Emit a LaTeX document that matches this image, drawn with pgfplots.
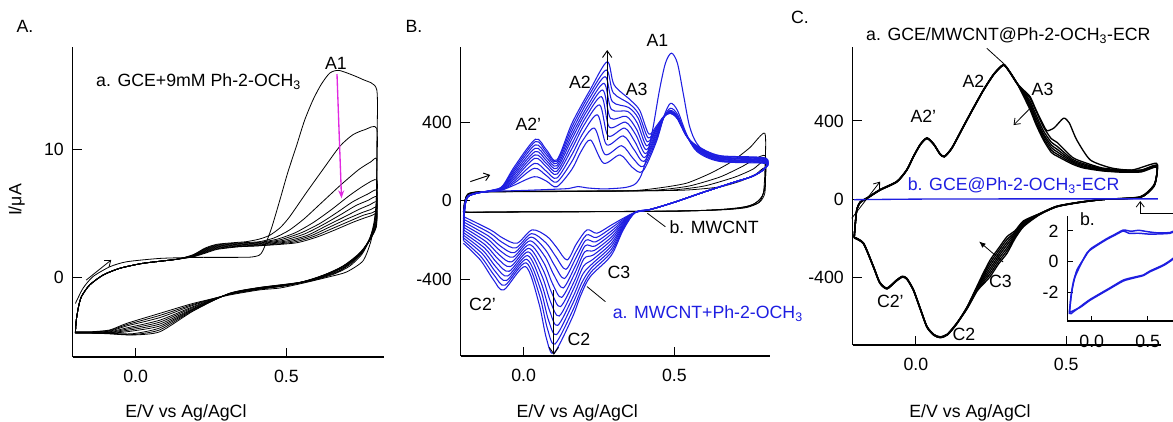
\documentclass[border=0pt]{standalone}
\usepackage{pgfplots}
\pgfplotsset{compat=1.18}
\usepackage{fontspec}
\setmainfont{Liberation Sans}
\usetikzlibrary{arrows.meta}
\definecolor{cvblue}{RGB}{30,30,225}
\definecolor{cvmag}{RGB}{225,40,225}
\pgfplotsset{
  cv/.style={
    scale only axis,
    axis lines*=left,
    axis line style={line width=0.8pt},
    tick style={black, line width=0.8pt},
    tick align=inside,
    major tick length=7pt,
    xtick={0,0.5}, xticklabels={0.0,0.5},
    xticklabel style={yshift=-5pt},
    yticklabel style={xshift=-2pt},
    /pgf/number format/assume math mode=true,
    clip=false,
  },
  ca/.style={black, line width=0.6pt, smooth, tension=0.4},
  cb/.style={cvblue, line width=0.8pt, smooth, tension=0.5},
  cc/.style={black, line width=1pt, smooth, tension=0.4},
}
\begin{document}
\fontsize{13.3}{16}\selectfont
\begin{tikzpicture}
\useasboundingbox (0,0) rectangle (879.75pt,315.75pt);
\clip (0,0) rectangle (879.75pt,315.75pt);

% ---------------- Panel A ----------------
\begin{axis}[cv, at={(54.5pt,48pt)}, anchor=south west,
  width=233.5pt, height=232.7pt,
  xmin=-0.209, xmax=0.824, ymin=-6.16, ymax=17.95,
  ytick={0,10}, yticklabels={0,10}]
\addplot[ca] coordinates {(-0.2,-2.0) (-0.175,-0.83) (-0.142,0.08) (-0.086,0.85) (-0.03,1.24) (0.08,1.5) (0.2,1.58) (0.3,1.58) (0.38,1.6) (0.41,1.75) (0.423,2.15) (0.45,3.8) (0.478,6.0) (0.505,8.2) (0.533,10.2) (0.56,12.2) (0.588,13.8) (0.615,15.0) (0.644,15.9) (0.677,16.1) (0.754,15.4) (0.8,14.6) (0.8,10) (0.799,6.5) (0.795,4.7) (0.78,2.8) (0.754,1.3) (0.7,0.45) (0.644,0.08) (0.55,-0.45) (0.478,-0.8) (0.41,-0.95) (0.31,-1.35) (0.19,-2.0) (0.08,-2.77) (-0.03,-3.55) (-0.086,-4.06) (-0.15,-4.2) (-0.2,-4.2)};
\addplot[ca] coordinates {(-0.2,-4.2) (-0.197,-3.3) (-0.19,-2.3) (-0.18,-1.47) (-0.153,-0.57) (-0.108,0.21) (-0.053,0.73) (0.024,1.12) (0.135,1.43) (0.19,1.78) (0.23,2.3) (0.27,2.6) (0.34,2.75) (0.367,2.8) (0.41,3.0) (0.445,3.3) (0.48,3.9) (0.511,4.74) (0.566,6.6) (0.621,8.4) (0.677,10.2) (0.72,11.1) (0.76,11.5) (0.8,11.6) (0.8,8) (0.798,5.8) (0.79,4.2) (0.775,2.9) (0.75,1.8) (0.71,0.9) (0.66,0.3) (0.59,-0.2) (0.5,-0.62) (0.41,-0.9) (0.31,-1.3) (0.19,-2.08) (0.08,-2.93) (-0.03,-3.65) (-0.086,-4.1) (-0.15,-4.22) (-0.2,-4.22)};
\addplot[ca] coordinates {(-0.2,-4.22) (-0.197,-3.3) (-0.19,-2.3) (-0.18,-1.47) (-0.153,-0.57) (-0.108,0.21) (-0.053,0.73) (0.024,1.12) (0.135,1.43) (0.19,1.76) (0.23,2.25) (0.27,2.55) (0.34,2.7) (0.41,2.8) (0.46,3.1) (0.51,3.7) (0.56,4.6) (0.62,5.9) (0.68,7.2) (0.74,8.4) (0.78,9.0) (0.8,9.2) (0.8,6.5) (0.798,5.2) (0.79,4.0) (0.775,2.9) (0.75,1.9) (0.715,1.1) (0.67,0.45) (0.6,-0.1) (0.5,-0.6) (0.41,-0.88) (0.31,-1.3) (0.19,-2.15) (0.08,-3.1) (-0.03,-3.75) (-0.086,-4.15) (-0.15,-4.24) (-0.2,-4.24)};
\addplot[ca] coordinates {(-0.2,-4.24) (-0.197,-3.3) (-0.19,-2.3) (-0.18,-1.47) (-0.153,-0.57) (-0.108,0.21) (-0.053,0.73) (0.024,1.12) (0.135,1.43) (0.19,1.74) (0.23,2.2) (0.27,2.5) (0.34,2.65) (0.41,2.75) (0.47,3.0) (0.53,3.5) (0.59,4.3) (0.65,5.3) (0.71,6.4) (0.76,7.2) (0.8,7.6) (0.8,5.8) (0.798,4.8) (0.79,3.9) (0.775,3.0) (0.755,2.1) (0.72,1.3) (0.68,0.6) (0.61,0.0) (0.51,-0.55) (0.41,-0.86) (0.31,-1.28) (0.19,-2.25) (0.08,-3.3) (-0.03,-3.9) (-0.086,-4.2) (-0.15,-4.26) (-0.2,-4.26)};
\addplot[ca] coordinates {(-0.2,-4.26) (-0.197,-3.3) (-0.19,-2.3) (-0.18,-1.47) (-0.153,-0.57) (-0.108,0.21) (-0.053,0.73) (0.024,1.12) (0.135,1.43) (0.19,1.72) (0.23,2.15) (0.27,2.45) (0.34,2.6) (0.41,2.7) (0.48,2.95) (0.55,3.5) (0.61,4.2) (0.67,5.1) (0.72,5.9) (0.77,6.5) (0.8,6.8) (0.8,5.3) (0.798,4.5) (0.79,3.8) (0.777,3.0) (0.76,2.3) (0.73,1.5) (0.69,0.8) (0.62,0.1) (0.52,-0.5) (0.41,-0.84) (0.31,-1.27) (0.19,-2.32) (0.08,-3.45) (-0.03,-4.0) (-0.086,-4.25) (-0.15,-4.27) (-0.2,-4.27)};
\addplot[ca] coordinates {(-0.2,-4.27) (-0.197,-3.3) (-0.19,-2.3) (-0.18,-1.47) (-0.153,-0.57) (-0.108,0.21) (-0.053,0.73) (0.024,1.12) (0.135,1.43) (0.19,1.7) (0.23,2.1) (0.27,2.4) (0.34,2.55) (0.41,2.65) (0.49,2.9) (0.56,3.4) (0.62,4.1) (0.68,4.9) (0.73,5.6) (0.77,6.0) (0.8,6.3) (0.8,5.0) (0.798,4.3) (0.79,3.7) (0.778,3.0) (0.762,2.4) (0.74,1.7) (0.7,1.0) (0.63,0.2) (0.53,-0.45) (0.41,-0.82) (0.31,-1.26) (0.19,-2.4) (0.08,-3.6) (-0.03,-4.1) (-0.086,-4.28) (-0.15,-4.28) (-0.2,-4.28)};
\addplot[ca] coordinates {(-0.2,-4.28) (-0.197,-3.3) (-0.19,-2.3) (-0.18,-1.47) (-0.153,-0.57) (-0.108,0.21) (-0.053,0.73) (0.024,1.12) (0.135,1.43) (0.19,1.68) (0.23,2.05) (0.27,2.35) (0.34,2.5) (0.41,2.6) (0.5,2.85) (0.57,3.3) (0.63,4.0) (0.69,4.7) (0.74,5.3) (0.775,5.65) (0.8,5.9) (0.8,4.8) (0.798,4.2) (0.79,3.6) (0.78,3.0) (0.765,2.5) (0.745,1.9) (0.71,1.2) (0.64,0.35) (0.54,-0.4) (0.41,-0.8) (0.31,-1.25) (0.19,-2.45) (0.08,-3.75) (-0.03,-4.2) (-0.086,-4.3) (-0.15,-4.3) (-0.2,-4.3)};
\addplot[ca] coordinates {(-0.2,-4.3) (-0.197,-3.3) (-0.19,-2.3) (-0.18,-1.47) (-0.153,-0.57) (-0.108,0.21) (-0.053,0.73) (0.024,1.12) (0.135,1.43) (0.19,1.66) (0.23,2.0) (0.27,2.3) (0.34,2.45) (0.41,2.55) (0.51,2.8) (0.58,3.25) (0.64,3.9) (0.7,4.55) (0.75,5.05) (0.78,5.3) (0.8,5.5) (0.8,4.6) (0.798,4.1) (0.79,3.55) (0.78,3.05) (0.767,2.6) (0.75,2.05) (0.72,1.4) (0.66,0.5) (0.55,-0.35) (0.41,-0.78) (0.31,-1.24) (0.19,-2.5) (0.08,-3.9) (-0.01,-4.35) (-0.086,-4.32) (-0.15,-4.3) (-0.2,-4.3)};
\addplot[ca] coordinates {(-0.2,-4.3) (-0.197,-3.3) (-0.19,-2.3) (-0.18,-1.47) (-0.153,-0.57) (-0.108,0.21) (-0.053,0.73) (0.024,1.12) (0.135,1.43) (0.19,1.64) (0.23,1.95) (0.27,2.25) (0.34,2.42) (0.41,2.5) (0.52,2.75) (0.59,3.2) (0.65,3.8) (0.71,4.4) (0.755,4.85) (0.785,5.05) (0.8,5.2) (0.8,4.45) (0.798,4.0) (0.79,3.5) (0.78,3.1) (0.77,2.7) (0.755,2.2) (0.73,1.6) (0.67,0.65) (0.56,-0.3) (0.41,-0.77) (0.31,-1.23) (0.19,-2.55) (0.08,-4.05) (-0.01,-4.42) (-0.086,-4.34) (-0.15,-4.3) (-0.2,-4.3)};
\addplot[ca] coordinates {(-0.2,-4.3) (-0.197,-3.3) (-0.19,-2.3) (-0.18,-1.47) (-0.153,-0.57) (-0.108,0.21) (-0.053,0.73) (0.024,1.12) (0.135,1.43) (0.19,1.62) (0.23,1.9) (0.27,2.2) (0.34,2.4) (0.41,2.48) (0.53,2.7) (0.6,3.15) (0.66,3.7) (0.72,4.3) (0.76,4.65) (0.785,4.85) (0.8,5.0) (0.8,4.3) (0.798,3.9) (0.79,3.45) (0.78,3.1) (0.77,2.75) (0.757,2.3) (0.735,1.75) (0.68,0.8) (0.57,-0.25) (0.41,-0.76) (0.31,-1.22) (0.19,-2.6) (0.08,-4.2) (-0.01,-4.45) (-0.086,-4.36) (-0.15,-4.3) (-0.2,-4.3)};
\draw[cvmag, line width=1pt, -{Stealth[length=6pt,width=4.5pt]}] (axis cs:0.668,15.83) -- (axis cs:0.683,6.17);
\draw[black, line width=0.6pt, -{Straight Barb[length=4pt,width=6pt]}] (axis cs:-0.164,-0.18) -- (axis cs:-0.081,1.38);
\end{axis}

% ---------------- Panel B ----------------
\begin{axis}[cv, at={(345.5pt,48.75pt)}, anchor=south west,
  width=232pt, height=232pt,
  xmin=-0.209, xmax=0.817, ymin=-792, ymax=785,
  ytick={-400,0,400}, yticklabels={-400,0,400}]
% black: MWCNT
\addplot[ca] coordinates {(-0.2,-55) (-0.195,0) (-0.185,30) (-0.15,42) (-0.05,45) (0.1,46) (0.35,50) (0.45,65) (0.54,89) (0.62,140) (0.69,199) (0.75,270) (0.8,343) (0.8,150) (0.795,40) (0.78,-10) (0.74,-35) (0.68,-45) (0.6,-50) (0.45,-54) (0.3,-55) (0.1,-56) (-0.1,-58) (-0.18,-60) (-0.2,-55)};
\addplot[ca] coordinates {(-0.2,-55) (-0.195,0) (-0.185,32) (-0.15,44) (-0.05,46) (0.1,47) (0.35,49) (0.45,55) (0.55,75) (0.65,120) (0.72,170) (0.8,230) (0.8,80) (0.79,20) (0.76,-20) (0.7,-40) (0.6,-50) (0.45,-55) (0.2,-57) (0,-58) (-0.18,-60) (-0.2,-56)};
\addplot[ca] coordinates {(-0.2,-56) (-0.195,0) (-0.185,34) (-0.15,45) (-0.05,47) (0.1,48) (0.4,50) (0.5,55) (0.6,75) (0.7,120) (0.76,160) (0.8,200) (0.8,60) (0.78,0) (0.74,-30) (0.65,-45) (0.5,-54) (0.2,-56) (0,-57) (-0.18,-59) (-0.2,-56)};
\addplot[ca] coordinates {(-0.2,-56) (-0.195,2) (-0.185,35) (-0.15,46) (-0.05,48) (0.1,49) (0.45,51) (0.55,55) (0.65,70) (0.72,100) (0.77,135) (0.8,165) (0.8,40) (0.78,-10) (0.72,-38) (0.6,-50) (0.4,-54) (0.2,-56) (0,-57) (-0.18,-58) (-0.2,-56)};
% blue: MWCNT + Ph-2-OCH3
\addplot[cb] coordinates {(-0.2,-60) (-0.195,-10) (-0.185,25) (-0.15,42) (-0.1,48) (-0.05,50) (0,52) (0.05,55) (0.1,58) (0.15,62) (0.18,72) (0.21,65) (0.26,60) (0.3,62) (0.34,68) (0.37,85) (0.39,130) (0.41,230) (0.43,380) (0.45,560) (0.47,700) (0.49,752) (0.51,700) (0.53,540) (0.55,380) (0.575,290) (0.62,230) (0.7,205) (0.8,200) (0.8,165) (0.76,125) (0.7,95) (0.6,45) (0.5,-8) (0.42,-45) (0.37,-60) (0.33,-90) (0.29,-125) (0.243,-166) (0.21,-149) (0.175,-220) (0.144,-302) (0.11,-240) (0.078,-183) (0.028,-149) (-0.022,-217) (-0.07,-190) (-0.11,-149) (-0.2,-81)};
\addplot[cb] coordinates {(-0.2,-81) (-0.195,-30) (-0.185,20) (-0.15,40) (-0.1,48) (-0.07,55) (-0.03,80) (0.035,122) (0.075,100) (0.11,71) (0.16,160) (0.19,250) (0.222,309) (0.265,191) (0.32,233) (0.36,170) (0.395,150) (0.44,300) (0.465,430) (0.487,496) (0.51,460) (0.54,340) (0.575,250) (0.65,200) (0.8,190) (0.8,165) (0.76,125) (0.7,95) (0.6,45) (0.5,-8) (0.42,-45) (0.37,-60) (0.33,-96) (0.29,-140) (0.241,-188) (0.208,-175) (0.174,-258) (0.140,-350) (0.107,-286) (0.075,-217) (0.026,-168) (-0.026,-241) (-0.073,-211) (-0.113,-164) (-0.2,-95)};
\addplot[cb] coordinates {(-0.2,-95) (-0.195,-30) (-0.185,20) (-0.15,40) (-0.1,49) (-0.07,57) (-0.03,91) (0.035,165) (0.075,128) (0.11,95) (0.16,200) (0.193,300) (0.235,369) (0.27,235) (0.325,280) (0.363,215) (0.397,175) (0.44,310) (0.465,425) (0.487,471) (0.51,440) (0.54,335) (0.575,255) (0.65,203) (0.8,193) (0.8,165) (0.76,125) (0.7,95) (0.6,45) (0.5,-8) (0.42,-45) (0.37,-60) (0.33,-102) (0.29,-156) (0.239,-210) (0.206,-202) (0.172,-296) (0.135,-397) (0.103,-332) (0.072,-250) (0.024,-186) (-0.031,-265) (-0.076,-233) (-0.117,-180) (-0.2,-108)};
\addplot[cb] coordinates {(-0.2,-108) (-0.195,-30) (-0.185,20) (-0.15,40) (-0.1,50) (-0.07,59) (-0.03,101) (0.036,190) (0.075,150) (0.11,115) (0.16,235) (0.197,345) (0.245,437) (0.275,285) (0.33,330) (0.366,260) (0.399,200) (0.44,320) (0.465,425) (0.487,460) (0.51,430) (0.54,333) (0.575,258) (0.65,206) (0.8,196) (0.8,165) (0.76,125) (0.7,95) (0.6,45) (0.5,-8) (0.42,-45) (0.37,-60) (0.33,-108) (0.29,-171) (0.236,-232) (0.204,-230) (0.171,-334) (0.131,-445) (0.1,-378) (0.07,-284) (0.021,-205) (-0.035,-288) (-0.079,-254) (-0.12,-195) (-0.2,-122)};
\addplot[cb] coordinates {(-0.2,-122) (-0.195,-30) (-0.185,20) (-0.15,40) (-0.1,50) (-0.07,62) (-0.03,112) (0.037,216) (0.075,173) (0.11,135) (0.16,265) (0.2,385) (0.252,488) (0.28,330) (0.335,370) (0.369,300) (0.401,220) (0.44,330) (0.465,425) (0.487,455) (0.51,425) (0.54,332) (0.575,262) (0.65,210) (0.8,200) (0.8,165) (0.76,125) (0.7,95) (0.6,45) (0.5,-8) (0.42,-45) (0.37,-60) (0.33,-114) (0.29,-187) (0.234,-254) (0.202,-262) (0.169,-372) (0.126,-493) (0.096,-424) (0.067,-318) (0.019,-224) (-0.04,-312) (-0.082,-275) (-0.124,-210) (-0.2,-135)};
\addplot[cb] coordinates {(-0.2,-135) (-0.195,-30) (-0.185,20) (-0.15,40) (-0.1,51) (-0.07,64) (-0.03,122) (0.037,233) (0.075,190) (0.11,150) (0.16,290) (0.204,420) (0.258,530) (0.284,375) (0.338,400) (0.372,335) (0.404,240) (0.44,340) (0.465,425) (0.487,452) (0.51,422) (0.54,331) (0.575,265) (0.65,213) (0.8,203) (0.8,165) (0.76,125) (0.7,95) (0.6,45) (0.5,-8) (0.42,-45) (0.37,-60) (0.33,-120) (0.29,-202) (0.232,-276) (0.2,-296) (0.168,-410) (0.122,-540) (0.093,-470) (0.064,-352) (0.017,-243) (-0.044,-336) (-0.085,-297) (-0.127,-226) (-0.2,-149)};
\addplot[cb] coordinates {(-0.2,-149) (-0.195,-30) (-0.185,20) (-0.15,40) (-0.1,52) (-0.07,66) (-0.03,133) (0.038,250) (0.075,205) (0.11,165) (0.16,315) (0.207,450) (0.262,564) (0.288,420) (0.34,430) (0.374,365) (0.406,260) (0.44,350) (0.465,428) (0.487,450) (0.51,420) (0.54,330) (0.575,268) (0.65,217) (0.8,206) (0.8,165) (0.76,125) (0.7,95) (0.6,45) (0.5,-8) (0.42,-45) (0.37,-60) (0.33,-126) (0.29,-218) (0.23,-299) (0.198,-335) (0.166,-448) (0.118,-588) (0.089,-516) (0.061,-385) (0.015,-261) (-0.048,-360) (-0.088,-318) (-0.13,-241) (-0.2,-163)};
\addplot[cb] coordinates {(-0.2,-163) (-0.195,-30) (-0.185,20) (-0.15,40) (-0.1,53) (-0.07,68) (-0.03,143) (0.038,267) (0.075,220) (0.11,178) (0.16,335) (0.211,480) (0.266,598) (0.291,465) (0.345,455) (0.377,395) (0.408,280) (0.44,360) (0.465,428) (0.487,448) (0.51,420) (0.54,330) (0.575,271) (0.65,220) (0.8,209) (0.8,165) (0.76,125) (0.7,95) (0.6,45) (0.5,-8) (0.42,-45) (0.37,-60) (0.33,-132) (0.29,-233) (0.228,-321) (0.196,-375) (0.165,-486) (0.113,-636) (0.086,-562) (0.058,-419) (0.013,-280) (-0.053,-384) (-0.091,-340) (-0.134,-256) (-0.2,-176)};
\addplot[cb] coordinates {(-0.2,-176) (-0.195,-30) (-0.185,20) (-0.15,40) (-0.1,53) (-0.07,71) (-0.03,154) (0.038,284) (0.075,235) (0.11,190) (0.16,355) (0.214,510) (0.27,632) (0.294,505) (0.348,475) (0.38,420) (0.41,300) (0.44,365) (0.465,428) (0.487,447) (0.51,418) (0.54,330) (0.575,274) (0.65,223) (0.8,212) (0.8,165) (0.76,125) (0.7,95) (0.6,45) (0.5,-8) (0.42,-45) (0.37,-60) (0.33,-138) (0.29,-249) (0.225,-343) (0.194,-415) (0.163,-524) (0.109,-683) (0.082,-608) (0.056,-453) (0.01,-299) (-0.057,-407) (-0.094,-361) (-0.137,-271) (-0.2,-190)};
\addplot[cb] coordinates {(-0.2,-190) (-0.195,-30) (-0.185,20) (-0.15,40) (-0.1,54) (-0.07,73) (-0.03,164) (0.039,301) (0.075,248) (0.11,200) (0.16,375) (0.217,538) (0.274,666) (0.297,550) (0.35,495) (0.382,440) (0.413,320) (0.44,372) (0.465,430) (0.487,446) (0.51,418) (0.54,330) (0.575,277) (0.65,227) (0.8,215) (0.8,165) (0.76,125) (0.7,95) (0.6,45) (0.5,-8) (0.42,-45) (0.37,-60) (0.33,-144) (0.29,-264) (0.223,-365) (0.192,-450) (0.162,-562) (0.104,-731) (0.079,-654) (0.053,-486) (0.008,-317) (-0.062,-431) (-0.097,-382) (-0.141,-287) (-0.2,-203)};
\addplot[cb] coordinates {(-0.2,-203) (-0.195,-30) (-0.185,20) (-0.15,40) (-0.1,55) (-0.07,75) (-0.03,175) (0.039,313) (0.075,260) (0.11,207) (0.16,394) (0.22,564) (0.277,708) (0.30,590) (0.354,513) (0.385,460) (0.415,340) (0.44,380) (0.465,430) (0.487,445) (0.51,418) (0.54,330) (0.575,280) (0.65,230) (0.8,218) (0.8,165) (0.76,125) (0.7,95) (0.6,45) (0.5,-8) (0.42,-45) (0.37,-60) (0.33,-150) (0.29,-280) (0.221,-387) (0.19,-480) (0.16,-600) (0.1,-778) (0.075,-700) (0.05,-520) (0.006,-336) (-0.066,-455) (-0.1,-404) (-0.144,-302) (-0.2,-217)};
\draw[black, line width=0.7pt, -{Straight Barb[length=5pt,width=7pt]}] (axis cs:0.277,309) -- (axis cs:0.277,768);
\draw[black, line width=0.7pt, -{Straight Barb[length=5pt,width=7pt]}] (axis cs:0.1,-455) -- (axis cs:0.1,-786);
\draw[black, line width=0.7pt, -{Straight Barb[length=4pt,width=6pt]}] (axis cs:-0.177,97) -- (axis cs:-0.111,131);
\draw[black, line width=0.6pt] (axis cs:0.47,-133) -- (axis cs:0.41,-64);
\draw[black, line width=0.6pt] (axis cs:0.271,-515) -- (axis cs:0.21,-438);
\end{axis}

% ---------------- Panel C ----------------
\begin{axis}[cv, at={(639.5pt,57pt)}, anchor=south west,
  width=231pt, height=223.7pt,
  xmin=-0.21, xmax=0.814, ymin=-744, ymax=779,
  ytick={-400,0,400}, yticklabels={-400,0,400}]
\addplot[cc] coordinates {(-0.205,-195) (-0.197,-60) (-0.185,-15) (-0.163,5) (-0.119,48) (-0.063,90) (-0.03,150) (-0.008,218) (0.015,280) (0.037,312) (0.06,280) (0.08,232) (0.095,218) (0.12,262) (0.158,371) (0.19,462) (0.225,558) (0.26,640) (0.291,686) (0.31,655) (0.336,593) (0.36,555) (0.38,524) (0.40,455) (0.424,380) (0.436,350) (0.46,365) (0.491,414) (0.51,390) (0.535,303) (0.58,201) (0.65,160) (0.72,150) (0.8,184) (0.8,120) (0.79,70) (0.746,13) (0.63,0) (0.55,-15) (0.469,-38) (0.41,-80) (0.358,-140) (0.33,-200) (0.303,-276) (0.275,-330) (0.247,-395) (0.22,-440) (0.203,-470) (0.17,-560) (0.136,-634) (0.105,-690) (0.081,-704) (0.06,-692) (0.037,-651) (0.015,-560) (-0.008,-463) (-0.03,-405) (-0.045,-395) (-0.065,-415) (-0.096,-455) (-0.12,-425) (-0.141,-344) (-0.174,-225) (-0.205,-195)};
\addplot[cc] coordinates {(-0.205,-195) (-0.197,-62) (-0.185,-17) (-0.163,3) (-0.119,46) (-0.063,88) (-0.03,148) (-0.008,216) (0.015,278) (0.037,310) (0.06,278) (0.08,230) (0.095,216) (0.12,260) (0.158,369) (0.19,460) (0.225,556) (0.26,638) (0.291,684) (0.31,653) (0.336,591) (0.36,550) (0.38,515) (0.40,450) (0.424,370) (0.45,310) (0.47,290) (0.52,215) (0.557,190) (0.62,160) (0.69,150) (0.75,150) (0.8,175) (0.8,118) (0.79,68) (0.746,12) (0.63,0) (0.55,-15) (0.469,-38) (0.41,-79) (0.358,-135) (0.33,-193) (0.303,-262) (0.275,-317) (0.247,-381) (0.22,-432) (0.203,-466) (0.17,-558) (0.136,-636) (0.105,-692) (0.081,-706) (0.06,-694) (0.037,-653) (0.015,-562) (-0.008,-465) (-0.03,-407) (-0.045,-397) (-0.065,-417) (-0.096,-457) (-0.12,-427) (-0.141,-346) (-0.174,-227) (-0.205,-197)};
\addplot[cc] coordinates {(-0.205,-197) (-0.197,-58) (-0.185,-13) (-0.163,7) (-0.119,50) (-0.063,92) (-0.03,152) (-0.008,220) (0.015,282) (0.037,314) (0.06,282) (0.08,234) (0.095,220) (0.12,264) (0.158,373) (0.19,464) (0.225,560) (0.26,642) (0.291,688) (0.31,657) (0.336,595) (0.36,545) (0.38,500) (0.40,430) (0.424,350) (0.45,292) (0.47,270) (0.52,205) (0.557,182) (0.62,156) (0.69,147) (0.75,148) (0.8,173) (0.8,116) (0.79,66) (0.746,11) (0.63,0) (0.55,-14) (0.469,-37) (0.41,-78) (0.358,-130) (0.33,-187) (0.303,-248) (0.275,-303) (0.247,-367) (0.22,-423) (0.203,-462) (0.17,-557) (0.136,-632) (0.105,-688) (0.081,-702) (0.06,-690) (0.037,-649) (0.015,-558) (-0.008,-461) (-0.03,-403) (-0.045,-393) (-0.065,-413) (-0.096,-453) (-0.12,-423) (-0.141,-342) (-0.174,-223) (-0.205,-193)};
\addplot[cc] coordinates {(-0.205,-193) (-0.197,-60) (-0.185,-15) (-0.163,5) (-0.119,48) (-0.063,90) (-0.03,150) (-0.008,218) (0.015,280) (0.037,312) (0.06,280) (0.08,232) (0.095,218) (0.12,262) (0.158,371) (0.19,462) (0.225,558) (0.26,640) (0.291,686) (0.31,655) (0.336,593) (0.36,540) (0.38,488) (0.40,415) (0.424,335) (0.45,278) (0.47,255) (0.52,198) (0.557,176) (0.62,152) (0.69,144) (0.75,146) (0.8,171) (0.8,115) (0.79,65) (0.746,10) (0.63,0) (0.55,-14) (0.469,-37) (0.41,-77) (0.358,-125) (0.33,-180) (0.303,-233) (0.275,-290) (0.247,-353) (0.22,-415) (0.203,-458) (0.17,-555) (0.136,-635) (0.105,-691) (0.081,-705) (0.06,-693) (0.037,-652) (0.015,-561) (-0.008,-464) (-0.03,-406) (-0.045,-396) (-0.065,-416) (-0.096,-456) (-0.12,-426) (-0.141,-345) (-0.174,-226) (-0.205,-196)};
\addplot[cc] coordinates {(-0.205,-196) (-0.197,-61) (-0.185,-16) (-0.163,4) (-0.119,47) (-0.063,89) (-0.03,149) (-0.008,217) (0.015,279) (0.037,311) (0.06,279) (0.08,231) (0.095,217) (0.12,261) (0.158,370) (0.19,461) (0.225,557) (0.26,639) (0.291,685) (0.31,654) (0.336,592) (0.36,535) (0.38,476) (0.40,400) (0.424,325) (0.45,265) (0.47,242) (0.52,192) (0.557,170) (0.62,149) (0.69,142) (0.75,144) (0.8,169) (0.8,114) (0.79,64) (0.746,10) (0.63,0) (0.55,-14) (0.469,-36) (0.41,-76) (0.358,-120) (0.33,-173) (0.303,-219) (0.275,-277) (0.247,-338) (0.22,-407) (0.203,-453) (0.17,-553) (0.136,-633) (0.105,-689) (0.081,-703) (0.06,-691) (0.037,-650) (0.015,-559) (-0.008,-462) (-0.03,-404) (-0.045,-394) (-0.065,-414) (-0.096,-454) (-0.12,-424) (-0.141,-343) (-0.174,-224) (-0.205,-194)};
\addplot[cc] coordinates {(-0.205,-194) (-0.197,-59) (-0.185,-14) (-0.163,6) (-0.119,49) (-0.063,91) (-0.03,151) (-0.008,219) (0.015,281) (0.037,313) (0.06,281) (0.08,233) (0.095,219) (0.12,263) (0.158,372) (0.19,463) (0.225,559) (0.26,641) (0.291,687) (0.31,656) (0.336,594) (0.36,528) (0.38,466) (0.40,390) (0.424,313) (0.45,252) (0.47,230) (0.52,186) (0.557,165) (0.62,147) (0.69,140) (0.75,142) (0.8,167) (0.8,113) (0.79,63) (0.746,9) (0.63,0) (0.55,-14) (0.469,-36) (0.41,-75) (0.358,-115) (0.33,-167) (0.303,-205) (0.275,-263) (0.247,-324) (0.22,-398) (0.203,-449) (0.17,-552) (0.136,-637) (0.105,-693) (0.081,-707) (0.06,-695) (0.037,-654) (0.015,-563) (-0.008,-466) (-0.03,-408) (-0.045,-398) (-0.065,-418) (-0.096,-458) (-0.12,-428) (-0.141,-347) (-0.174,-228) (-0.205,-198)};
\addplot[cc] coordinates {(-0.205,-198) (-0.197,-60) (-0.185,-15) (-0.163,5) (-0.119,48) (-0.063,90) (-0.03,150) (-0.008,218) (0.015,280) (0.037,312) (0.06,280) (0.08,232) (0.095,218) (0.12,262) (0.158,371) (0.19,462) (0.225,558) (0.26,640) (0.291,686) (0.31,655) (0.336,593) (0.36,520) (0.38,456) (0.40,380) (0.424,303) (0.45,240) (0.47,220) (0.52,180) (0.557,160) (0.62,145) (0.69,138) (0.75,140) (0.8,165) (0.8,112) (0.79,62) (0.746,9) (0.63,0) (0.55,-13) (0.469,-35) (0.41,-74) (0.358,-110) (0.33,-160) (0.303,-191) (0.275,-250) (0.247,-310) (0.22,-390) (0.203,-445) (0.17,-550) (0.136,-634) (0.105,-690) (0.081,-704) (0.06,-692) (0.037,-651) (0.015,-560) (-0.008,-463) (-0.03,-405) (-0.045,-395) (-0.065,-415) (-0.096,-455) (-0.12,-425) (-0.141,-344) (-0.174,-225) (-0.205,-195)};
\addplot[cvblue, line width=1pt] coordinates {(-0.205,-2) (0,1) (0.3,2) (0.6,2) (0.805,2)};
\draw[black, line width=0.6pt] (axis cs:0.236,771) -- (axis cs:0.297,686);
\draw[black, line width=0.6pt, -{Straight Barb[length=4pt,width=6pt]}] (axis cs:0.391,482) -- (axis cs:0.325,379);
\draw[black, line width=0.6pt, -{Latex[length=5pt,width=4pt]}] (axis cs:0.29,-320) -- (axis cs:0.21,-215);
\draw[black, line width=0.6pt, -{Straight Barb[length=4pt,width=6pt]}] (axis cs:-0.213,-97) -- (axis cs:-0.119,90);
\draw[black, line width=0.6pt, -{Straight Barb[length=4pt,width=6pt]}] (axis cs:0.86,-71.5) -- (axis cs:0.746,-71.5) -- (axis cs:0.746,-9);
\end{axis}

% ---------------- Inset ----------------
\begin{axis}[cv, at={(800.5pt,75pt)}, anchor=south west,
  width=89.7pt, height=78.75pt,
  xmin=-0.218, xmax=0.85, ymin=-3.85, ymax=2.97,
  major tick length=4pt,
  xticklabel style={yshift=-1pt},
  ytick={-2,0,2}, yticklabels={-2,0,2},
  axis background/.style={fill=white}]
\addplot[cvblue, line width=1.1pt, smooth, tension=0.35] coordinates {(-0.2,-3.4) (-0.194,-2.9) (-0.185,-2.2) (-0.164,-1.3) (-0.13,-0.5) (-0.075,0.15) (-0.015,0.8) (0.045,1.1) (0.134,1.5) (0.2,1.75) (0.282,2.06) (0.35,1.98) (0.42,2.04) (0.5,1.95) (0.58,1.88) (0.7,1.9) (0.8,2.2) (0.8,1.6) (0.77,0.9) (0.73,0.25) (0.64,-0.2) (0.52,-0.6) (0.46,-0.86) (0.38,-1.0) (0.282,-1.19) (0.15,-1.75) (-0.015,-2.45) (-0.1,-2.9) (-0.19,-3.4)};
\addplot[cvblue, line width=1.1pt, smooth, tension=0.35] coordinates {(-0.2,-3.3) (-0.19,-2.6) (-0.175,-1.8) (-0.15,-1.0) (-0.1,-0.2) (-0.04,0.6) (0.045,1.05) (0.134,1.45) (0.2,1.7) (0.282,2.0) (0.33,1.85) (0.42,1.85) (0.5,1.8) (0.58,1.8) (0.7,1.85) (0.8,2.1) (0.8,1.5) (0.77,0.85) (0.73,0.2) (0.64,-0.25) (0.52,-0.65) (0.46,-0.9) (0.38,-1.05) (0.282,-1.25) (0.15,-1.8) (-0.015,-2.5) (-0.1,-2.95) (-0.2,-3.3)};
\end{axis}

% ---------------- Text ----------------
\node at (18.75pt,296.25pt) {A.};
\node at (310.5pt,296.25pt) {B.};
\node at (600pt,302.6pt) {C.};
\node[rotate=90] at (12.5pt,165.75pt) {I/μA};
\node[anchor=base] at (139.4pt,3pt) {E/V vs Ag/AgCl};
\node[anchor=base] at (432.9pt,3pt) {E/V vs Ag/AgCl};
\node[anchor=base] at (727.5pt,3pt) {E/V vs Ag/AgCl};
% A
\node at (252pt,268.3pt) {A1};
\node[anchor=west] at (67.5pt,254.8pt) {a. GCE+9mM Ph-2-OCH\textsubscript{3}};
% B
\node at (493.1pt,285.75pt) {A1};
\node at (435pt,253.9pt) {A2};
\node at (477.5pt,249pt) {A3};
\node at (396.25pt,222.75pt) {A2'};
\node at (464.25pt,111.4pt) {C3};
\node at (361.9pt,87.75pt) {C2'};
\node at (434.25pt,61.5pt) {C2};
\node[anchor=west] at (497.5pt,145.1pt) {b. MWCNT};
\node[anchor=west, text=cvblue] at (455pt,80.25pt) {a. MWCNT+Ph-2-OCH\textsubscript{3}};
% C
\node[anchor=west] at (645pt,289.1pt) {a. GCE/MWCNT@Ph-2-OCH\textsubscript{3}-ECR};
\node at (730pt,255pt) {A2};
\node at (781.9pt,249pt) {A3};
\node at (692.5pt,228.5pt) {A2'};
\node at (750.25pt,105pt) {C3};
\node at (667.75pt,89.5pt) {C2'};
\node at (723pt,65.25pt) {C2};
\node[anchor=west, text=cvblue] at (676.25pt,176.4pt) {b. GCE@Ph-2-OCH\textsubscript{3}-ECR};
\node at (815.6pt,151.5pt) {b.};
\end{tikzpicture}
\end{document}
